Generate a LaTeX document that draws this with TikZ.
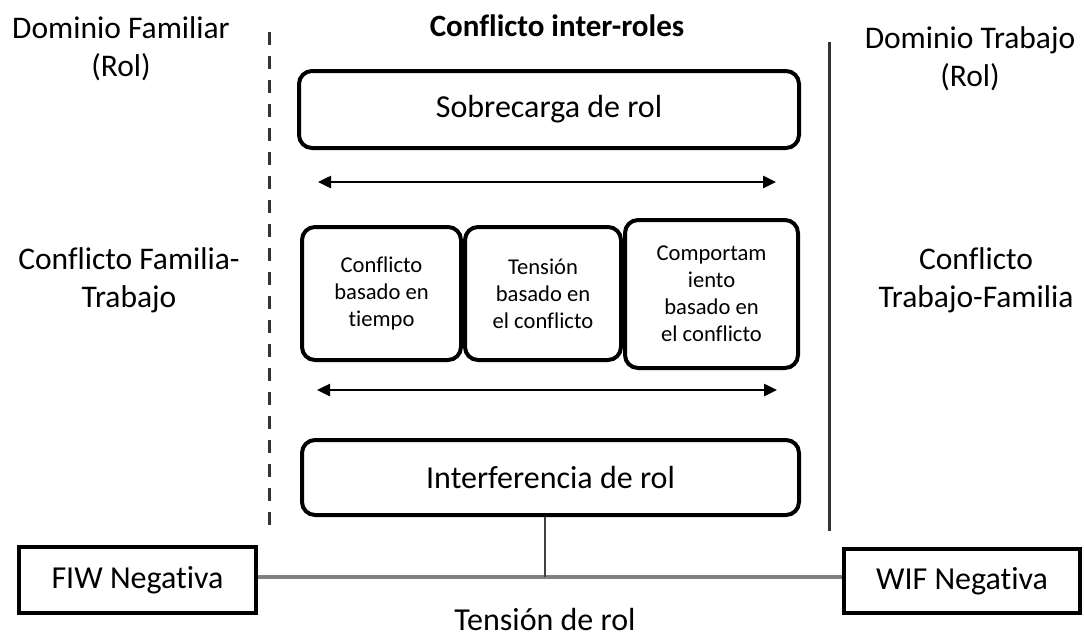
\documentclass[tikz,border=0pt]{standalone}
\usepackage{fontspec}
\setmainfont[Ligatures={NoCommon}]{Carlito}
\usetikzlibrary{arrows.meta}
\begin{document}
\begin{tikzpicture}[x=1pt,y=-1pt,
  bigtext/.style={font=\fontsize{31.5}{37.5}\selectfont, align=center, inner sep=0pt},
  smalltext/.style={font=\fontsize{22.6}{27}\selectfont, align=center},
  rbox/.style={draw, line width=4pt, rounded corners=13pt, inner sep=0pt},
  sqbox/.style={draw, line width=4pt, inner sep=0pt, font=\fontsize{32}{38}\selectfont},
  dblarrow/.style={line width=2.5pt, {Triangle[length=13pt,width=12pt]}-{Triangle[length=13pt,width=12pt]}},
  sepline/.style={line width=3pt, draw=black!80},
  joinline/.style={line width=4pt, draw=black!50},
  stemline/.style={line width=1.8pt, draw=black!75}
]
\useasboundingbox (0,0) rectangle (1084,637);
\fill[white] (0,0) rectangle (1084,637);

% separators
\coordinate (dtop) at (269,32);
\coordinate (dbot) at (269,532);
\coordinate (stop) at (829,42);
\coordinate (sbot) at (829,531);
\draw[sepline, dash pattern=on 13pt off 11pt] (dtop) -- (dbot);
\draw[sepline] (stop) -- (sbot);

% side labels (anchor base = baseline of last line)
\node[bigtext, anchor=base] (domfam) at (121,76) {Dominio Familiar\\(Rol)};
\node[bigtext, anchor=base] (confft) at (129,307) {Conflicto Familia-\\Trabajo};
\node[bigtext, anchor=base] (domtra) at (970,86) {Dominio Trabajo\\(Rol)};
\node[bigtext, anchor=base] (conftf) at (976,307) {Conflicto\\Trabajo-Familia};

% title
\node[font=\bfseries\fontsize{31}{37}\selectfont, anchor=base, inner sep=0pt] (title) at (557,36) {Conflicto inter-roles};

% boxes
\node[rbox, minimum width=500pt, minimum height=77pt, font=\fontsize{32}{38}\selectfont] (sobre) at (549,109.5) {Sobrecarga de rol};
\coordinate (a1l) at (318,182);
\coordinate (a1r) at (776,182);
\draw[dblarrow] (a1l) -- (a1r);

\node[rbox, minimum width=159pt, minimum height=133pt, smalltext] (b1) at (381.5,293.5) {Conflicto\\basado en\\tiempo};
\node[rbox, minimum width=156pt, minimum height=133pt, smalltext] (b2) at (543,293.5) {Tensión\\basado en\\el conflicto};
\node[rbox, minimum width=173pt, minimum height=148pt, smalltext] (b3) at (711.5,294) {Comportam\\iento\\basado en\\el conflicto};

\coordinate (a2l) at (317,390);
\coordinate (a2r) at (777,390);
\draw[dblarrow] (a2l) -- (a2r);

\node[rbox, minimum width=497pt, minimum height=75pt, font=\fontsize{32}{38}\selectfont] (interf) at (550.5,477.5) {Interferencia de rol};

% bottom
\node[sqbox, minimum width=237pt, minimum height=66pt] (fiw) at (137.5,580) {FIW Negativa};
\node[sqbox, minimum width=236pt, minimum height=64pt] (wif) at (962,581) {WIF Negativa};
\coordinate (j) at (545,577);
\draw[joinline] (fiw.east |- j) -- (j) -- (wif.west |- j);
\draw[stemline] (interf.south -| j) -- (j);
\node[font=\fontsize{32}{38}\selectfont, anchor=base, inner sep=0pt] (tension) at (545,630) {Tensión de rol};
\end{tikzpicture}
\end{document}
